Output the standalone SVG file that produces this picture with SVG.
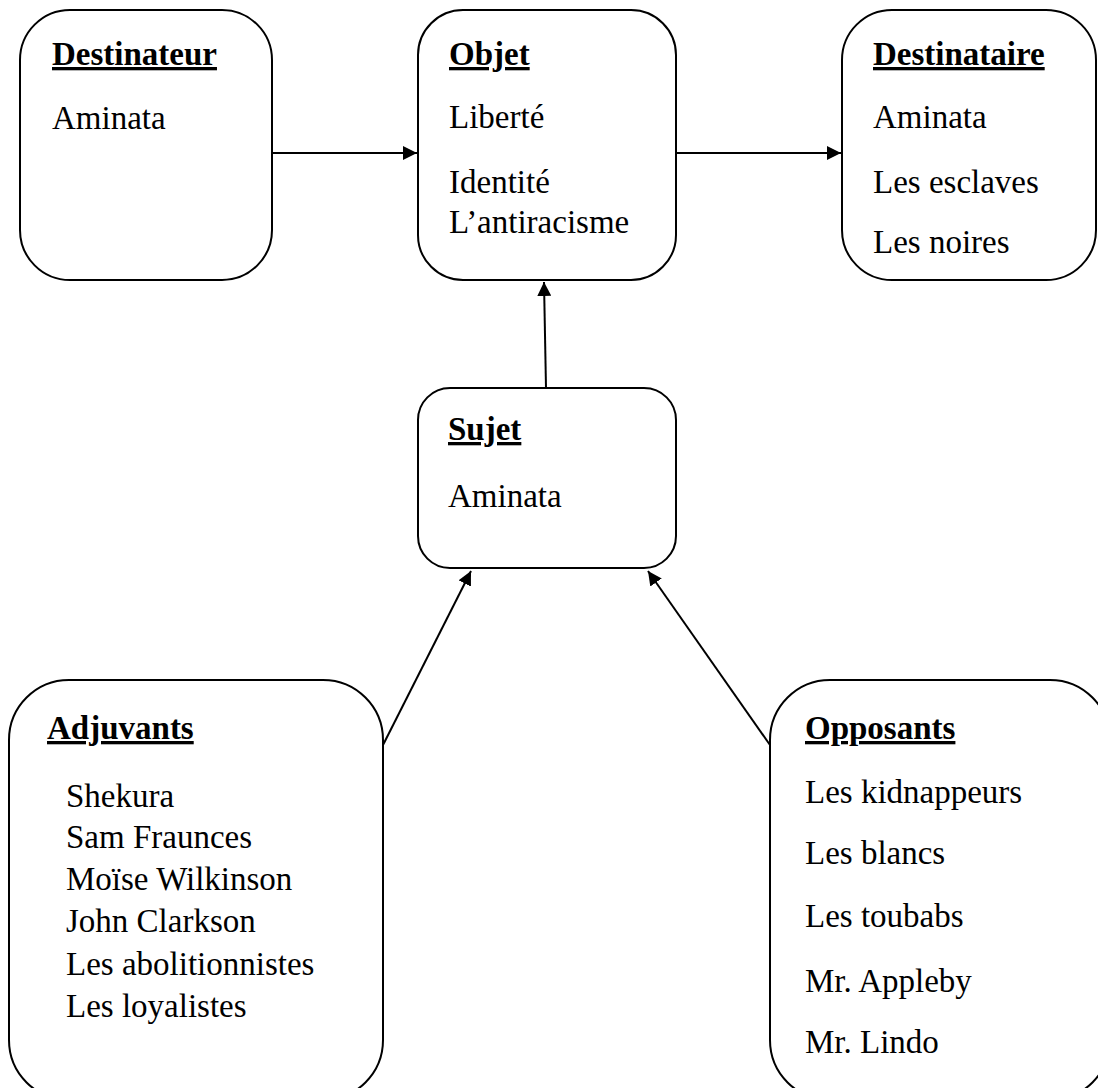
<svg xmlns="http://www.w3.org/2000/svg" width="1098" height="1088" viewBox="0 0 1098 1088">
<style>
.box{fill:#fff;stroke:#000;stroke-width:2}
.t{font-family:"Liberation Serif","Times New Roman",serif;font-size:33px;fill:#000}
.h{font-weight:bold;text-decoration:underline}
.c{stroke:#000;stroke-width:2;fill:none;marker-end:url(#ah)}
</style>
<defs>
<marker id="ah" viewBox="0 0 10 10" refX="10" refY="5" markerWidth="7" markerHeight="7" markerUnits="strokeWidth" orient="auto">
<path d="M0,0 L10,5 L0,10 Z" fill="#000"/>
</marker>
</defs>
<rect width="1098" height="1088" fill="#fff"/>
<g id="connectors">
<line class="c" x1="272" y1="153" x2="417" y2="153"/>
<line class="c" x1="676" y1="153" x2="841" y2="153"/>
<line class="c" x1="546" y1="388" x2="544" y2="282"/>
<line class="c" x1="383" y1="745" x2="471" y2="571"/>
<line class="c" x1="770" y1="745" x2="648" y2="571"/>
</g>
<g id="destinateur">
<rect class="box" x="20" y="10" width="252" height="270" rx="50" ry="50"/>
<text class="t h" x="52" y="65">Destinateur</text>
<text class="t" x="52" y="129">Aminata</text>
</g>
<g id="objet">
<rect class="box" x="418" y="10" width="258" height="270" rx="45" ry="45"/>
<text class="t h" x="449" y="65">Objet</text>
<text class="t" x="449" y="128">Liberté</text>
<text class="t" x="449" y="193">Identité</text>
<text class="t" x="449" y="233">L’antiracisme</text>
</g>
<g id="destinataire">
<rect class="box" x="842" y="10" width="254" height="270" rx="50" ry="50"/>
<text class="t h" x="873" y="65">Destinataire</text>
<text class="t" x="873" y="128">Aminata</text>
<text class="t" x="873" y="193">Les esclaves</text>
<text class="t" x="873" y="253">Les noires</text>
</g>
<g id="sujet">
<rect class="box" x="418" y="388" width="258" height="180" rx="32" ry="32"/>
<text class="t h" x="448" y="440">Sujet</text>
<text class="t" x="448" y="507">Aminata</text>
</g>
<g id="adjuvants">
<rect class="box" x="9" y="680" width="374" height="420" rx="60" ry="60"/>
<text class="t h" x="47" y="739">Adjuvants</text>
<text class="t" x="66" y="807">Shekura</text>
<text class="t" x="66" y="848">Sam Fraunces</text>
<text class="t" x="66" y="890">Moïse Wilkinson</text>
<text class="t" x="66" y="932">John Clarkson</text>
<text class="t" x="66" y="975">Les abolitionnistes</text>
<text class="t" x="66" y="1017">Les loyalistes</text>
</g>
<g id="opposants">
<rect class="box" x="770" y="680" width="340" height="420" rx="60" ry="60"/>
<text class="t h" x="805" y="739">Opposants</text>
<text class="t" x="805" y="803">Les kidnappeurs</text>
<text class="t" x="805" y="864">Les blancs</text>
<text class="t" x="805" y="927">Les toubabs</text>
<text class="t" x="805" y="992">Mr. Appleby</text>
<text class="t" x="805" y="1053">Mr. Lindo</text>
</g>
</svg>
